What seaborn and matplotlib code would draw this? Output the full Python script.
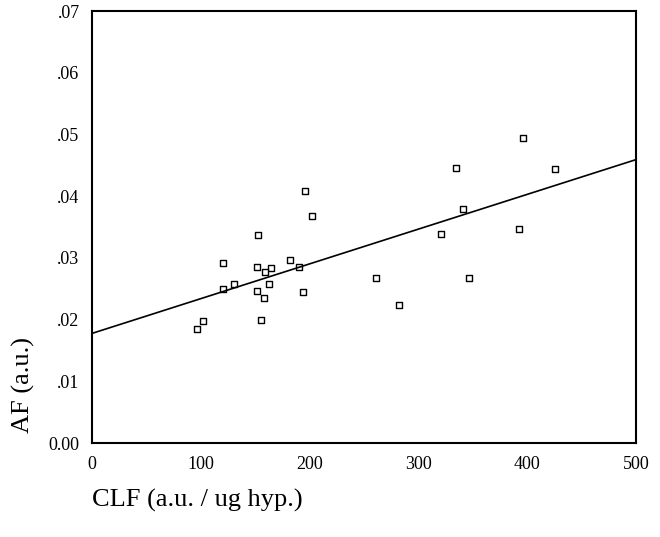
import numpy as np
import pandas as pd
import matplotlib
matplotlib.use("Agg")
import matplotlib.pyplot as plt
import matplotlib.ticker as mticker
import seaborn as sns

# values
clf = [195.8, 201.9, 152.9, 120.7, 182.0, 151.4, 164.5, 159.3, 190.3,
       130.8, 120.7, 163.0, 151.4, 194.2, 157.8, 101.7, 96.2, 155.3,
       396.4, 334.8, 425.8, 341.3, 321.0, 392.5, 260.7, 346.8, 282.5]
af = [.0408, .0368, .0337, .0292, .0297, .0285, .0283, .0277, .0285,
      .0258, .0250, .0257, .0247, .0244, .0235, .0197, .0185, .0199,
      .0495, .0446, .0444, .0380, .0339, .0347, .0268, .0268, .0223]
x_ticks = [0, 100, 200, 300, 400, 500]
y_ticks = [0.0, .01, .02, .03, .04, .05, .06, .07]

df = pd.DataFrame({"CLF": clf, "AF": af})

sns.set_style("white")
plt.rcParams["font.family"] = ["Liberation Serif", "DejaVu Serif"]
plt.rcParams["text.color"] = "black"

fig = plt.figure(figsize=(6.6, 5.37), dpi=100)
ax = fig.add_axes([0.1394, 0.175, 0.8242, 0.8045])
# limits first so the fit line spans the whole axis
ax.set_xlim(0, 500)
ax.set_ylim(0, 0.07)

sns.regplot(data=df, x="CLF", y="AF", ax=ax, ci=None, truncate=False,
            marker="s",
            scatter_kws={"s": 22, "facecolors": "white", "edgecolors": "black",
                         "linewidths": 1.0, "alpha": 1},
            line_kws={"color": "black", "lw": 1.2})

ax.set_xlim(0, 500)
ax.set_ylim(0, 0.07)
ax.set_xticks(x_ticks)
ax.set_yticks(y_ticks)


def yfmt(v, pos):
    if abs(v) < 1e-9:
        return "0.00"
    return ("%.2f" % v)[1:]


ax.yaxis.set_major_formatter(mticker.FuncFormatter(yfmt))
ax.tick_params(axis="both", direction="out", length=3, width=2.5,
               labelsize=13, colors="black", pad=6)
ax.tick_params(axis="x", pad=6)
for s in ax.spines.values():
    s.set_visible(True)
    s.set_color("black")
    s.set_linewidth(1.5)

ax.set_xlabel("")
ax.set_ylabel("")
fig.text(0.139, 0.068, "CLF (a.u. / ug hyp.)", fontsize=19, color="black",
         ha="left", va="center")
fig.text(0.035, 0.283, "AF (a.u.)", fontsize=19, rotation=90, color="black",
         ha="center", va="center")

fig.savefig("out.png", dpi=100, facecolor="white")
